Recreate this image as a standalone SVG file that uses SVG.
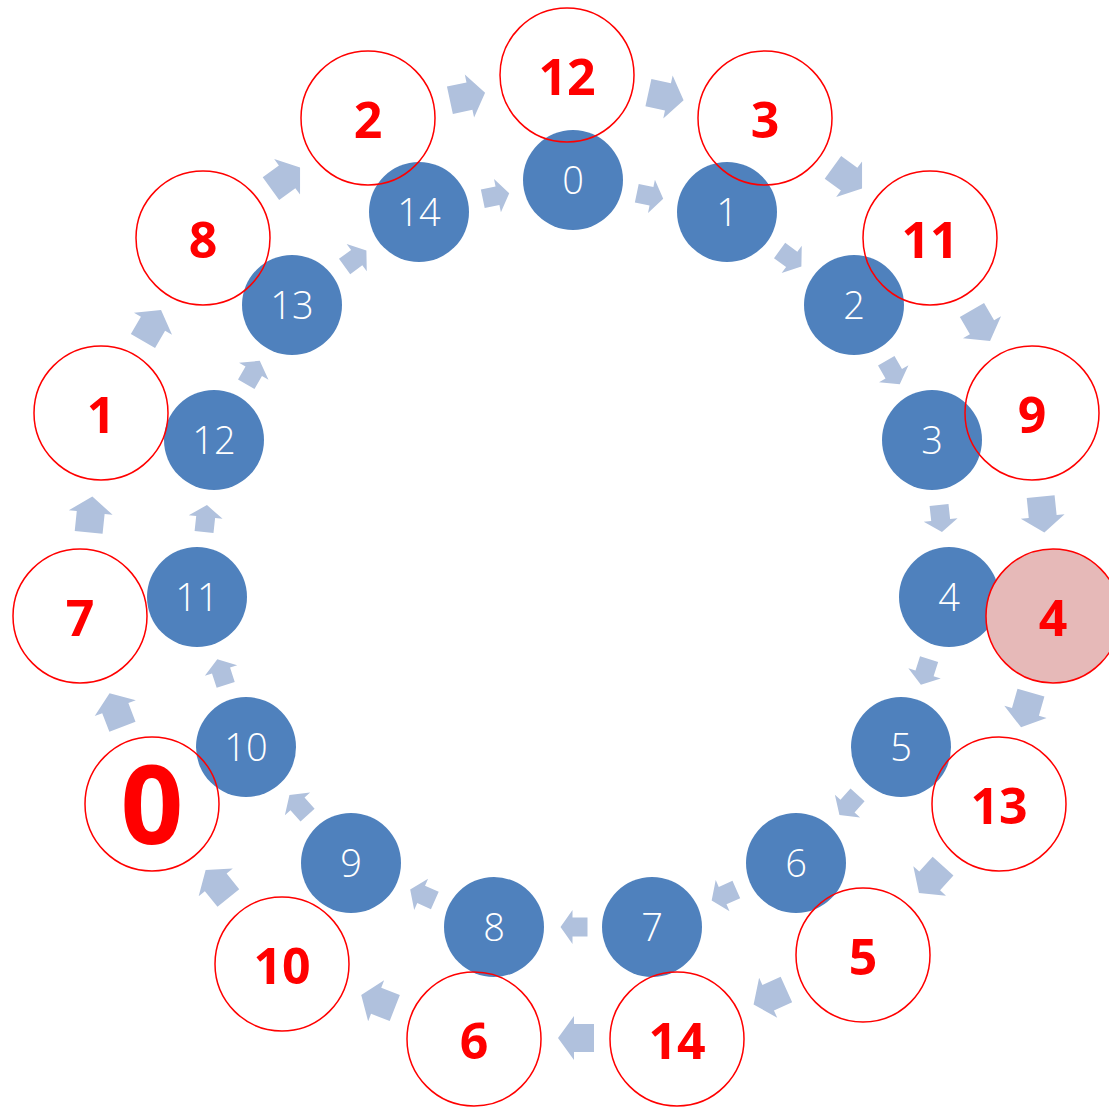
<svg xmlns="http://www.w3.org/2000/svg" width="1109" height="1107" viewBox="0 0 1109 1107">
<style>
.bn{fill:#4F81BD}
.bt{fill:#fff;font-family:"Open Sans","DejaVu Sans",sans-serif;font-weight:300;font-size:38px;text-anchor:middle}
.rn{fill:none;stroke:#FF0000;stroke-width:1.5}
.rt{fill:#FF0000;font-family:"Open Sans","DejaVu Sans",sans-serif;font-weight:700;font-size:50px;text-anchor:middle}
.ar{fill:#B0C1DD}
</style>
<defs>
<path id="ai" d="M-13.5,-9.5 L1.5,-9.5 L1.5,-17 L13.5,0 L1.5,17 L1.5,9.5 L-13.5,9.5 Z"/>
<path id="ao" d="M-18,-14 L2,-14 L2,-22 L18,0 L2,22 L2,14 L-18,14 Z"/>
</defs>
<rect width="1109" height="1107" fill="#fff"/>
<g id="connectors" class="ar">
<use href="#ai" transform="translate(650,196) rotate(11.7)"/>
<use href="#ai" transform="translate(790.5,258.5) rotate(36.2)"/>
<use href="#ai" transform="translate(893,372.5) rotate(60)"/>
<use href="#ai" transform="translate(940.5,518.5) rotate(83.8)"/>
<use href="#ai" transform="translate(925,672) rotate(107.7)"/>
<use href="#ai" transform="translate(848.5,805) rotate(132.1)"/>
<use href="#ai" transform="translate(724,895) rotate(156)"/>
<use href="#ai" transform="translate(574,927) rotate(180)"/>
<use href="#ai" transform="translate(422.5,895) rotate(204.1)"/>
<use href="#ai" transform="translate(298.5,805) rotate(227.9)"/>
<use href="#ai" transform="translate(221.5,672) rotate(251.9)"/>
<use href="#ai" transform="translate(205.5,518.5) rotate(276.2)"/>
<use href="#ai" transform="translate(253,372.5) rotate(300)"/>
<use href="#ai" transform="translate(355.5,258.5) rotate(323.8)"/>
<use href="#ai" transform="translate(496,196) rotate(348.3)"/>
<use href="#ao" transform="translate(666,96.5) rotate(12.3)"/>
<use href="#ao" transform="translate(847.5,178) rotate(36)"/>
<use href="#ao" transform="translate(981,325.5) rotate(59.8)"/>
<use href="#ao" transform="translate(1042.5,514.5) rotate(84.1)"/>
<use href="#ao" transform="translate(1026,710) rotate(106)"/>
<use href="#ao" transform="translate(931,879.5) rotate(132)"/>
<use href="#ao" transform="translate(770,997) rotate(155.7)"/>
<use href="#ao" transform="translate(576,1038) rotate(180)"/>
<use href="#ao" transform="translate(378,1001.5) rotate(201.3)"/>
<use href="#ao" transform="translate(217,884) rotate(230.9)"/>
<use href="#ao" transform="translate(116,710) rotate(249)"/>
<use href="#ao" transform="translate(90.5,514.5) rotate(275.9)"/>
<use href="#ao" transform="translate(152,325.5) rotate(300.2)"/>
<use href="#ao" transform="translate(285.5,178) rotate(324)"/>
<use href="#ao" transform="translate(467.5,96.5) rotate(347.8)"/>
</g>
<g id="inner">
<g id="b0"><circle class="bn" cx="573" cy="180" r="50"/><text class="bt" x="573" y="194">0</text></g>
<g id="b1"><circle class="bn" cx="727" cy="212" r="50"/><text class="bt" x="727" y="226">1</text></g>
<g id="b2"><circle class="bn" cx="854" cy="305" r="50"/><text class="bt" x="854" y="319">2</text></g>
<g id="b3"><circle class="bn" cx="932" cy="440" r="50"/><text class="bt" x="932" y="454">3</text></g>
<g id="b4"><circle class="bn" cx="949" cy="597" r="50"/><text class="bt" x="949" y="611">4</text></g>
<g id="b5"><circle class="bn" cx="901" cy="747" r="50"/><text class="bt" x="901" y="761">5</text></g>
<g id="b6"><circle class="bn" cx="796" cy="863" r="50"/><text class="bt" x="796" y="877">6</text></g>
<g id="b7"><circle class="bn" cx="652" cy="927" r="50"/><text class="bt" x="652" y="941">7</text></g>
<g id="b8"><circle class="bn" cx="494" cy="927" r="50"/><text class="bt" x="494" y="941">8</text></g>
<g id="b9"><circle class="bn" cx="351" cy="863" r="50"/><text class="bt" x="351" y="877">9</text></g>
<g id="b10"><circle class="bn" cx="246" cy="747" r="50"/><text class="bt" x="246" y="761">10</text></g>
<g id="b11"><circle class="bn" cx="197" cy="597" r="50"/><text class="bt" x="197" y="611">11</text></g>
<g id="b12"><circle class="bn" cx="214" cy="440" r="50"/><text class="bt" x="214" y="454">12</text></g>
<g id="b13"><circle class="bn" cx="292" cy="305" r="50"/><text class="bt" x="292" y="319">13</text></g>
<g id="b14"><circle class="bn" cx="419" cy="212" r="50"/><text class="bt" x="419" y="226">14</text></g>
</g>
<g id="outer">
<g id="r12"><circle class="rn" cx="567" cy="75" r="67"/><text class="rt" x="567" y="95">12</text></g>
<g id="r3"><circle class="rn" cx="765" cy="118" r="67"/><text class="rt" x="765" y="138">3</text></g>
<g id="r11"><circle class="rn" cx="930" cy="238" r="67"/><text class="rt" x="930" y="258">11</text></g>
<g id="r9"><circle class="rn" cx="1032" cy="413" r="67"/><text class="rt" x="1032" y="433">9</text></g>
<g id="r4"><circle class="rn" cx="1053" cy="616" r="67" fill="#E6B9B8" style="fill:#E6B9B8"/><text class="rt" x="1053" y="636">4</text></g>
<g id="r13"><circle class="rn" cx="999" cy="804" r="67"/><text class="rt" x="999" y="824">13</text></g>
<g id="r5"><circle class="rn" cx="863" cy="955" r="67"/><text class="rt" x="863" y="975">5</text></g>
<g id="r14"><circle class="rn" cx="677" cy="1039" r="67"/><text class="rt" x="677" y="1059">14</text></g>
<g id="r6"><circle class="rn" cx="474" cy="1039" r="67"/><text class="rt" x="474" y="1059">6</text></g>
<g id="r10"><circle class="rn" cx="282" cy="964" r="67"/><text class="rt" x="282" y="984">10</text></g>
<g id="r0"><circle class="rn" cx="152" cy="804" r="67"/><text class="rt" x="152" y="844" style="font-size:110px">0</text></g>
<g id="r7"><circle class="rn" cx="80" cy="616" r="67"/><text class="rt" x="80" y="636">7</text></g>
<g id="r1"><circle class="rn" cx="101" cy="413" r="67"/><text class="rt" x="101" y="433">1</text></g>
<g id="r8"><circle class="rn" cx="203" cy="238" r="67"/><text class="rt" x="203" y="258">8</text></g>
<g id="r2"><circle class="rn" cx="368" cy="118" r="67"/><text class="rt" x="368" y="138">2</text></g>
</g>
</svg>
